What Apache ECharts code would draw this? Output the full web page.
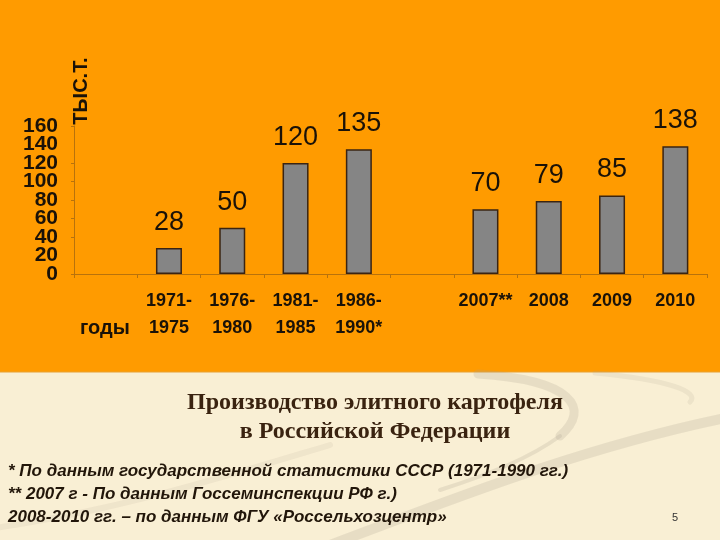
<!DOCTYPE html>
<html>
<head>
<meta charset="utf-8">
<script src="https://cdn.jsdelivr.net/npm/echarts@6/dist/echarts.min.js"></script>
<style>
  html, body { margin: 0; padding: 0; background: #f9efd4; }
  #echarts_main { width: 720px; height: 540px; }
</style>
</head>
<body>
<div id="echarts_main"></div>
<script>
// категории (пустые — отступ и разрыв между периодами)
const categories = ['', '1971-\n1975', '1976-\n1980', '1981-\n1985', '1986-\n1990*', '', '2007**', '2008', '2009', '2010'];
const values = ['-', 28, 50, 120, 135, '-', 70, 79, 85, 138];
const yTicks = [0, 20, 40, 60, 80, 100, 120, 140, 160];

const titleLines = ['Производство элитного картофеля', 'в Российской Федерации'];
const notes = [
  '* По данным государственной статистики СССР (1971-1990 гг.)',
  '** 2007 г - По данным Госсеминспекции РФ г.)',
  '2008-2010 гг. – по данным ФГУ «Россельхозцентр»'
];

const sans = "'Liberation Sans', Arial, sans-serif";
const axisColor = '#b8720c';
const swoosh = 'rgba(170,160,140,0.22)';

const myChart = echarts.init(document.getElementById('echarts_main'));

const curve = (x1, y1, cpx1, cpy1, cpx2, cpy2, x2, y2, w, color) => ({
  type: 'bezierCurve', z: -9,
  shape: { x1, y1, cpx1, cpy1, cpx2, cpy2, x2, y2 },
  style: { stroke: color || swoosh, lineWidth: w, fill: null, lineCap: 'round' }
});

const yLabelStyle = {
  margin: 16,
  color: '#1a1208',
  fontFamily: sans,
  fontWeight: 'bold',
  fontSize: 21,
  lineHeight: 12,
  hideOverlap: false
};
const yMin = yTicks[0];
const yMax = yTicks[yTicks.length - 1];

const option = {
  backgroundColor: '#f9efd4',
  animation: false,
  grid: {
    left: 74,
    right: 13,
    top: 126,
    bottom: 266,
    containLabel: false
  },
  xAxis: {
    type: 'category',
    data: categories,
    axisLine: { lineStyle: { color: axisColor, width: 1 } },
    axisTick: { show: true, length: 4, inside: false, lineStyle: { color: axisColor } },
    axisLabel: {
      interval: 0,
      margin: 14,
      color: '#1a1208',
      fontFamily: sans,
      fontWeight: 'bold',
      fontSize: 18,
      lineHeight: 27,
      verticalAlign: 'top'
    }
  },
  yAxis: [{
    type: 'value',
    min: yMin,
    max: yMax,
    interval: 20,
    splitLine: { show: false },
    axisLine: { show: true, lineStyle: { color: axisColor, width: 1 } },
    axisTick: { show: true, length: 3, lineStyle: { color: axisColor } },
    axisLabel: Object.assign({ showMinLabel: true, showMaxLabel: true }, yLabelStyle)
  }, {
    // подписи, которые первая ось прячет рядом с min/max
    type: 'value',
    position: 'left',
    offset: 0,
    min: yMin,
    max: yMax,
    interval: 20,
    splitLine: { show: false },
    axisLine: { show: false },
    axisTick: { show: false },
    axisLabel: Object.assign({
      showMinLabel: false,
      showMaxLabel: false,
      formatter: v => (v === yTicks[1] || v === yTicks[yTicks.length - 2]) ? String(v) : ''
    }, yLabelStyle)
  }],
  series: [{
    type: 'bar',
    data: values,
    barWidth: 26,
    itemStyle: {
      color: '#858585',
      borderColor: '#3a2412',
      borderWidth: 1.5
    },
    label: {
      show: true,
      position: 'top',
      distance: 12,
      color: '#1a1208',
      fontFamily: sans,
      fontSize: 27
    }
  }],
  graphic: [
    { type: 'rect', z: -10, shape: { x: 0, y: 0, width: 720, height: 372 }, style: { fill: '#ff9b00' } },
    { type: 'line', z: -9, shape: { x1: 0, y1: 372, x2: 720, y2: 372 }, style: { stroke: '#e8a030', lineWidth: 1 } },
    // декоративные полосы на светлом фоне
    curve(330, 545, 450, 500, 580, 448, 725, 418, 10),
    curve(478, 374, 572, 380, 592, 408, 560, 436, 9),
    curve(560, 436, 530, 458, 490, 474, 440, 490, 4),
    curve(595, 373, 670, 380, 700, 392, 690, 402, 5, 'rgba(170,160,140,0.15)'),
    curve(-5, 528, 120, 510, 230, 475, 330, 445, 6, 'rgba(170,160,140,0.12)'),
    {
      type: 'text', x: 81, y: 91, rotation: Math.PI / 2,
      style: { text: 'ТЫС.Т.', fill: '#1a1208', font: 'bold 20px ' + sans, align: 'center', verticalAlign: 'middle' }
    },
    {
      type: 'text', x: 80, y: 328,
      style: { text: 'годы', fill: '#1a1208', font: 'bold 20px ' + sans, align: 'left', verticalAlign: 'middle' }
    },
    {
      type: 'text', x: 375, y: 403,
      style: { text: titleLines[0], fill: '#3a2310', font: "bold 24px 'Liberation Serif', serif", align: 'center', verticalAlign: 'middle' }
    },
    {
      type: 'text', x: 375, y: 432,
      style: { text: titleLines[1], fill: '#3a2310', font: "bold 24px 'Liberation Serif', serif", align: 'center', verticalAlign: 'middle' }
    },
    {
      type: 'text', x: 8, y: 471,
      style: { text: notes[0], fill: '#22160a', font: 'italic bold 17px ' + sans, align: 'left', verticalAlign: 'middle' }
    },
    {
      type: 'text', x: 8, y: 494,
      style: { text: notes[1], fill: '#22160a', font: 'italic bold 17px ' + sans, align: 'left', verticalAlign: 'middle' }
    },
    {
      type: 'text', x: 8, y: 517,
      style: { text: notes[2], fill: '#22160a', font: 'italic bold 17px ' + sans, align: 'left', verticalAlign: 'middle' }
    },
    {
      type: 'text', x: 675, y: 518,
      style: { text: '5', fill: '#333', font: '11px ' + sans, align: 'center', verticalAlign: 'middle' }
    }
  ]
};

myChart.setOption(option);
</script>
</body>
</html>
